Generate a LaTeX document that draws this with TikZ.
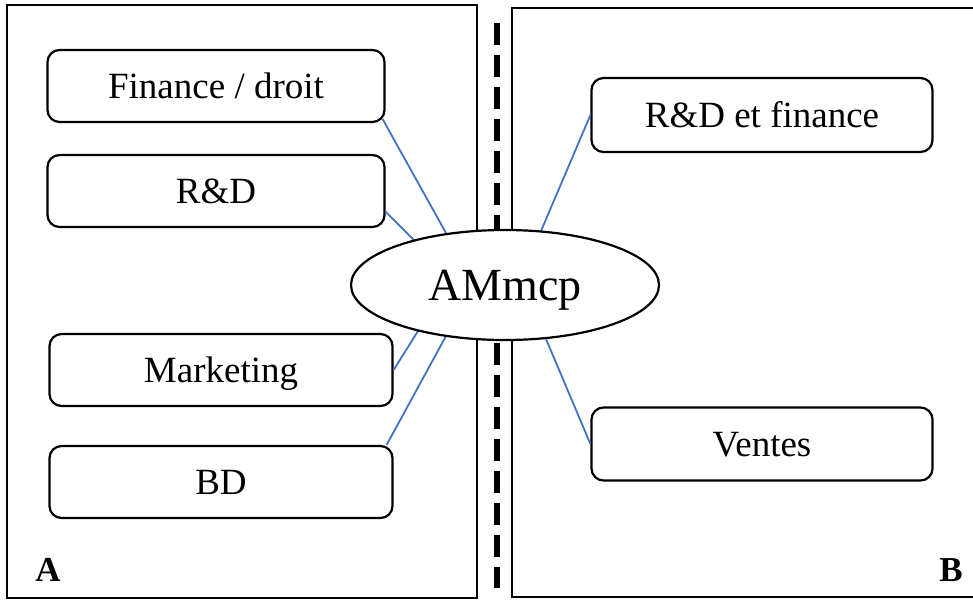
\documentclass[tikz,border=0pt]{standalone}
\usepackage{fontspec}
\setmainfont{Liberation Serif}
\usepackage{tikz}
\usetikzlibrary{positioning}
\usetikzlibrary{shapes.geometric}

\definecolor{linkblue}{HTML}{4472C4}

\begin{document}
\begin{tikzpicture}[x=1pt,y=-1pt,
  unit/.style={draw,rounded corners=12pt,line width=2.2pt,minimum width=337pt,minimum height=72pt,
    inner sep=0pt,text height=24.4pt,text depth=0pt,font=\fontsize{37}{44}\selectfont},
  link/.style={draw=linkblue,line width=1.8pt},
  side/.style={inner sep=0pt,font=\fontsize{35}{42}\selectfont\bfseries}]
\useasboundingbox (0,0) rectangle (973,600);
% the two sides
\draw[line width=2pt] (7,5) rectangle (477,598);
\draw[line width=2pt] (973,8) -- (512,8) -- (512,597) -- (973,597);
\draw[line width=6pt,dash pattern=on 22pt off 10pt] (497,23) -- (497,588);
\node[side] (s_a) at (48,570) {A};
\node[side] (s_b) at (951,570) {B};
% units of A
\node[unit] (a_1) at (216,86)  {Finance / droit};
\node[unit] (a_2) at (216,191) {R\&D};
\node[unit,minimum width=343pt] (a_3) at (221,370) {Marketing};
\node[unit,minimum width=343pt] (a_4) at (221,482) {BD};
% units of B
\node[unit,minimum width=341pt,minimum height=74pt] (b_1) at (762,115) {R\&D et finance};
\node[unit,minimum width=341pt,minimum height=73pt] (b_2) at (762,444) {Ventes};
% links
\draw[link] ([shift={(-3pt,4pt)}]a_1.south east) -- (505-59,285-52);
\draw[link] (a_2.-7) -- (505-91,285-45);
\draw[link] (a_3.east) -- (505-87,285+46);
\draw[link] ([xshift=-7pt]a_4.north east) -- (505-59,285+51);
\draw[link] (b_1.west) -- (505+36,285-54);
\draw[link] (b_2.west) -- (505+41,285+54);
\node[ellipse,draw,fill=white,line width=2.2pt,minimum width=308pt,minimum height=110pt,inner sep=0pt,
  text height=30.4pt,text depth=0pt,font=\fontsize{46}{54}\selectfont] (amcp) at (505,285) {AMmcp};
\end{tikzpicture}
\end{document}
